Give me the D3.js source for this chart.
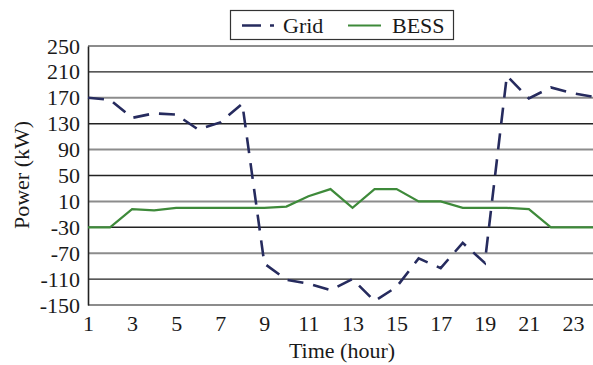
<!DOCTYPE html>
<html><head><meta charset="utf-8">
<script src="https://cdn.jsdelivr.net/npm/d3@7"></script>
<style>body{margin:0;background:#fff}svg{display:block}svg text{font-family:"Liberation Serif","Times New Roman",serif !important;fill:#1a1a1a}</style>
</head><body><svg id="c" width="593" height="365"></svg>
<script>
const hours = d3.range(1, 25);
const grid = [170,167,139,146,144,121,132,161,-86,-111,-117,-127,-110,-144,-122,-78,-93,-54,-85,204,169,186,177,171];
const bess = [-30,-30,-2,-4,0,0,0,0,0,2,18,29,0,29,29,10,10,0,0,0,-2,-30,-30,-30];
const yTicks = [250,210,170,130,90,50,10,-30,-70,-110,-150];
const xTicks = [1,3,5,7,9,11,13,15,17,19,21,23];
const seriesNames = ["Grid","BESS"];

const svg = d3.select("#c");
const x = d3.scaleLinear().domain([1,24]).range([88,595]);
const y = d3.scaleLinear().domain([-150,250]).range([305,46]);

// gridlines
svg.append("g").selectAll("line").data(yTicks).join("line")
  .attr("x1",88).attr("x2",593)
  .attr("y1",d=>y(d)).attr("y2",d=>y(d))
  .attr("stroke",(d,i)=> i%2===0 ? "#8c8c8c" : "#222")
  .attr("stroke-width",(d,i)=> i%2===0 ? 2 : 1.4);

// y axis
const ya = svg.append("g").attr("transform","translate(88,0)")
  .call(d3.axisLeft(y).tickValues(yTicks).tickSize(0).tickPadding(8).tickFormat(d=>String(d)));
ya.attr("font-family",null).attr("font-size",22);
ya.select(".domain").attr("stroke","#222").attr("stroke-width",1.6);
ya.selectAll("text").attr("fill","#1a1a1a");

// x axis
const xa = svg.append("g").attr("transform","translate(0,305)")
  .call(d3.axisBottom(x).tickValues(xTicks).tickSize(0).tickPadding(10).tickFormat(d=>String(d)));
xa.attr("font-family",null).attr("font-size",22);
xa.select(".domain").remove();
xa.selectAll("text").attr("fill","#1a1a1a");

// lines
const line = vals => d3.line().x((d,i)=>x(hours[i])).y(d=>y(d))(vals);
svg.append("clipPath").attr("id","pc").append("rect").attr("x",80).attr("y",30).attr("width",513).attr("height",290);
svg.append("path").attr("d",line(bess)).attr("fill","none").attr("stroke","#3e8a3a").attr("stroke-width",2.2).attr("clip-path","url(#pc)");
svg.append("path").attr("d",line(grid)).attr("fill","none").attr("stroke","#262b5e").attr("stroke-width",2.6)
  .attr("stroke-dasharray","16,10").attr("clip-path","url(#pc)");

// axis titles
svg.append("text").attr("x",342).attr("y",358).attr("text-anchor","middle").attr("font-size",22).text("Time (hour)");
svg.append("text").attr("transform","translate(29,175) rotate(-90)").attr("text-anchor","middle").attr("font-size",22).text("Power (kW)");

// legend
const lg = svg.append("g");
lg.append("rect").attr("x",230.5).attr("y",10.5).attr("width",223).attr("height",29).attr("fill","#fff").attr("stroke","#333").attr("stroke-width",1.2);
lg.append("line").attr("x1",242).attr("x2",275).attr("y1",25.5).attr("y2",25.5).attr("stroke","#262b5e").attr("stroke-width",2.6).attr("stroke-dasharray","19,9,4,9");
lg.append("text").attr("x",283).attr("y",33).attr("font-size",22).text(seriesNames[0]);
lg.append("line").attr("x1",348).attr("x2",381).attr("y1",25.5).attr("y2",25.5).attr("stroke","#3e8a3a").attr("stroke-width",2.2);
lg.append("text").attr("x",392).attr("y",33).attr("font-size",22).text(seriesNames[1]);
</script></body></html>
